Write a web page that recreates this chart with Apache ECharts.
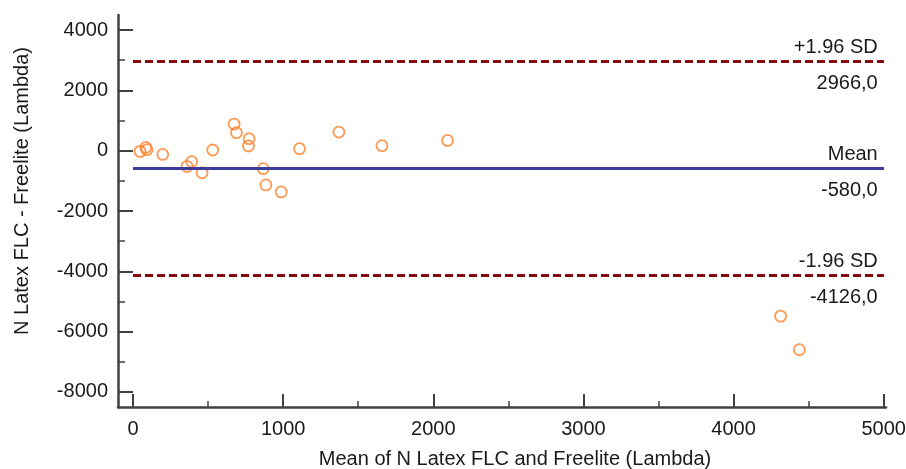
<!DOCTYPE html>
<html>
<head>
<meta charset="utf-8">
<script src="https://cdn.jsdelivr.net/npm/echarts@6/dist/echarts.min.js"></script>
<style>
  html, body { margin: 0; background: #fff; }
  #chart { width: 906px; height: 469px; }
</style>
</head>
<body>
<div id="chart"></div>
<script>
// Bland-Altman: mean of the two methods vs difference
const meanX = [47, 85, 93, 198, 360, 391, 460, 531, 673, 689, 773, 769, 867, 885, 987, 1109, 1371, 1658, 2095, 4313, 4438];
const diffY = [-23, 109, 33, -123, -520, -364, -728, 23, 884, 596, 397, 156, -596, -1136, -1368, 66, 619, 166, 341, -5487, -6600];

const xTicks = [0, 1000, 2000, 3000, 4000, 5000];
const xMinorTicks = [500, 1500, 2500, 3500, 4500];
const yTicks = [-8000, -6000, -4000, -2000, 0, 2000, 4000];
const yMinorTicks = [-7000, -5000, -3000, -1000, 1000, 3000];

const limitNames = ['+1.96 SD', 'Mean', '-1.96 SD'];
const limitValues = [2966, -580, -4126];
const limitFrom = 0;
const limitTo = 5000;

const chart = echarts.init(document.getElementById('chart'));

const axisColor = '#404040';
const textColor = '#1a1a1a';
const font = 'Liberation Sans, Arial, sans-serif';
const redLine = { color: '#800000', width: 2.5, type: [8, 4] };
const blueLine = { color: '#3c3c9c', width: 3, type: 'solid' };

const markData = [];
limitNames.forEach((name, i) => {
  const v = limitValues[i];
  const style = i === 1 ? blueLine : redLine;
  const coords = [[limitFrom, v], [limitTo, v]];
  markData.push([
    { coord: coords[0], lineStyle: style, label: { show: true, position: 'insideEndTop', distance: [6, 4], formatter: name } },
    { coord: coords[1] }
  ]);
  markData.push([
    { coord: coords[0], lineStyle: style, label: { show: true, position: 'insideEndBottom', distance: [6, 12], formatter: v.toFixed(1).replace('.', ',') } },
    { coord: coords[1] }
  ]);
});

const plain = v => String(v);

const option = {
  animation: false,
  grid: { left: 118, right: 20, top: 15, bottom: 62, outerBoundsMode: 'none', containLabel: false },
  xAxis: [
    {
      type: 'value', min: -100, max: 5015,
      name: 'Mean of N Latex FLC and Freelite (Lambda)',
      nameLocation: 'middle', nameGap: 42,
      nameTextStyle: { fontFamily: font, fontSize: 20, color: textColor, padding: [0, 0, 0, 26] },
      axisLine: { show: true, onZero: false, lineStyle: { color: axisColor, width: 2.5 } },
      axisTick: { show: true, inside: true, length: 13, customValues: xTicks, lineStyle: { color: axisColor, width: 2 } },
      axisLabel: { customValues: xTicks, margin: 12, fontFamily: font, fontSize: 20, color: textColor, formatter: plain },
      splitLine: { show: false }
    },
    {
      type: 'value', min: -100, max: 5015, position: 'bottom',
      axisLine: { show: false, onZero: false },
      axisTick: { show: true, inside: true, length: 6, customValues: xMinorTicks, lineStyle: { color: axisColor, width: 1.5 } },
      axisLabel: { show: false },
      splitLine: { show: false }
    }
  ],
  yAxis: [
    {
      type: 'value', min: -8500, max: 4500,
      name: 'N Latex FLC - Freelite (Lambda)',
      nameLocation: 'middle', nameGap: 86, nameRotate: 90,
      nameTextStyle: { fontFamily: font, fontSize: 20, color: textColor, padding: [0, 0, 0, 40] },
      axisLine: { show: true, onZero: false, lineStyle: { color: axisColor, width: 2.5 } },
      axisTick: { show: true, inside: true, length: 15, customValues: yTicks, lineStyle: { color: axisColor, width: 2 } },
      axisLabel: { customValues: yTicks, margin: 10, fontFamily: font, fontSize: 20, color: textColor, formatter: plain },
      splitLine: { show: false }
    },
    {
      type: 'value', min: -8500, max: 4500, position: 'left',
      axisLine: { show: false, onZero: false },
      axisTick: { show: true, inside: true, length: 7, customValues: yMinorTicks, lineStyle: { color: axisColor, width: 1.5 } },
      axisLabel: { show: false },
      splitLine: { show: false }
    }
  ],
  series: [
    {
      type: 'scatter',
      data: meanX.map((x, i) => [x, diffY[i]]),
      symbol: 'circle',
      symbolSize: 11,
      itemStyle: { color: 'transparent', borderColor: '#ff7f27', borderWidth: 1.8 },
      z: 3,
      markLine: {
        silent: true,
        symbol: 'none',
        label: { fontFamily: font, fontSize: 20, color: textColor },
        data: markData
      }
    }
  ]
};

chart.setOption(option);
</script>
</body>
</html>
